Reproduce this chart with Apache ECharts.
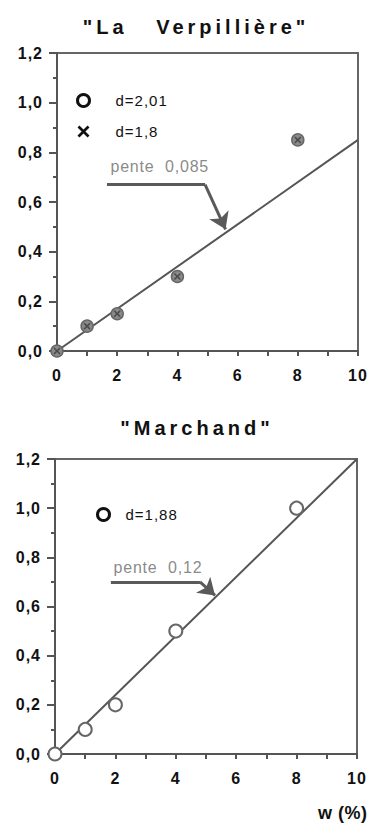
<!DOCTYPE html>
<html>
<head>
<meta charset="utf-8">
<script src="https://cdn.jsdelivr.net/npm/echarts@6.0.0/dist/echarts.min.js"></script>
<style>
  html, body { margin: 0; padding: 0; background: #fff; }
  #chart { width: 372px; height: 823px; }
  /* wide tracking, typewriter-style lettering */
  #chart text[style*="20px"] { letter-spacing: 4px; }
  #chart text[style*="18px"] { letter-spacing: 0.5px; }
  #chart text[style*="bold"][style*="16px"] { letter-spacing: 1px; }
  #chart text[style*="15px"] { letter-spacing: 1px; }
  #chart text[style*="16px"]:not([style*="bold"]) { letter-spacing: 0.8px; }
</style>
</head>
<body>
<div id="chart"></div>
<script>
// Tick labels (French decimal comma)
const xTickLabels = ['0', '2', '4', '6', '8', '10'];
const yTickLabels = ['0,0', '0,2', '0,4', '0,6', '0,8', '1,0', '1,2'];

// "La Verpillière": water content w (%) and measured values
const verpW = [0, 1, 2, 4, 8];
const verpD201 = [0, 0.10, 0.15, 0.30, 0.85];
const verpD18 = [0, 0.10, 0.15, 0.30, 0.85];
const verpSlope = 0.085;

// "Marchand"
const marchW = [0, 1, 2, 4, 8];
const marchD188 = [0, 0.10, 0.20, 0.50, 1.00];
const marchSlope = 0.12;

// Fitted lines span the full w range
const fitW = [0, 10];

// Slope callouts: shaft (horizontal) and head (diagonal) in data units
const verpShaft = [[1.66, 0.67], [4.92, 0.67]];
const verpHead = [[4.92, 0.67], [5.6, 0.49]];
const verpNote = [1.76, 0.742];
const marchShaft = [[1.85, 0.70], [4.8, 0.70]];
const marchHead = [[4.8, 0.70], [5.3, 0.645]];
const marchNote = [1.92, 0.757];

const FONT = '"Liberation Sans", Arial, Helvetica, sans-serif';
const INK = '#111';
const GREY = '#555';
const CROSS = 'path://M0,1.6 L1.6,0 L5,3.4 L8.4,0 L10,1.6 L6.6,5 L10,8.4 L8.4,10 L5,6.6 L1.6,10 L0,8.4 L3.4,5 Z';

const zip = (xs, ys) => xs.map((x, i) => [x, ys[i]]);
const fmtSlope = s => 'pente  ' + String(s).replace('.', ',');

function xAxis(gridIndex) {
  return {
    type: 'value', gridIndex, min: 0, max: 10, interval: 2,
    axisLine: { show: true, onZero: false, lineStyle: { color: GREY, width: 2 } },
    axisTick: { show: true, length: 5, lineStyle: { color: GREY, width: 2 } },
    minorTick: { show: true, splitNumber: 2, length: 5, lineStyle: { color: GREY, width: 2 } },
    splitLine: { show: false },
    minorSplitLine: { show: false },
    axisLabel: {
      margin: 16, fontSize: 16, fontWeight: 'bold', color: INK, fontFamily: FONT,
      formatter: v => xTickLabels[Math.round(v / 2)]
    }
  };
}

function yAxis(gridIndex) {
  return {
    type: 'value', gridIndex, min: 0, max: 1.2, interval: 0.2,
    axisLine: { show: true, onZero: false, lineStyle: { color: GREY, width: 2 } },
    axisTick: { show: true, length: 8, lineStyle: { color: GREY, width: 2 } },
    minorTick: { show: true, splitNumber: 2, length: 4, lineStyle: { color: GREY, width: 2 } },
    splitLine: { show: false },
    minorSplitLine: { show: false },
    axisLabel: {
      margin: 14, fontSize: 16, fontWeight: 'bold', color: INK, fontFamily: FONT,
      formatter: v => yTickLabels[Math.round(v / 0.2)]
    }
  };
}

function fitLine(idx, slope) {
  return {
    type: 'line', xAxisIndex: idx, yAxisIndex: idx, silent: true, z: 1,
    data: zip(fitW, fitW.map(w => w * slope)),
    symbol: 'none', lineStyle: { color: GREY, width: 2 }
  };
}

function arrowPart(idx, coords, withHead) {
  return {
    type: 'lines', coordinateSystem: 'cartesian2d', xAxisIndex: idx, yAxisIndex: idx,
    silent: true, z: 2,
    symbol: withHead ? ['none', 'arrow'] : ['none', 'none'],
    symbolSize: [0, 16],
    lineStyle: { color: '#5a5a5a', width: 3, opacity: 1, curveness: 0 },
    data: [{ coords }]
  };
}

function note(idx, pos, slope) {
  return {
    type: 'scatter', xAxisIndex: idx, yAxisIndex: idx, silent: true, z: 2,
    data: [pos], symbolSize: 1, itemStyle: { color: 'rgba(0,0,0,0)' },
    label: {
      show: true, position: 'right', distance: 0,
      formatter: () => fmtSlope(slope),
      fontSize: 16, color: '#6a6a6a', fontFamily: FONT
    }
  };
}

const chart = echarts.init(document.getElementById('chart'), null, { renderer: 'svg' });

chart.setOption({
  animation: false,
  backgroundColor: '#fff',
  grid: [
    { left: 57, top: 53, width: 301, height: 298, show: true, borderColor: '#666', borderWidth: 2, backgroundColor: 'transparent' },
    { left: 55, top: 459, width: 302, height: 295, show: true, borderColor: '#666', borderWidth: 2, backgroundColor: 'transparent' }
  ],
  xAxis: [xAxis(0), xAxis(1)],
  yAxis: [yAxis(0), yAxis(1)],
  legend: [
    {
      orient: 'vertical', left: 71, top: 88, itemWidth: 54, itemHeight: 12, itemGap: 16,
      selectedMode: false,
      textStyle: { fontSize: 15, color: INK, fontFamily: FONT },
      data: [
        { name: 'd=2,01', icon: 'circle', itemStyle: { color: '#fff', borderColor: INK, borderWidth: 3 } },
        { name: 'd=1,8', icon: CROSS, itemStyle: { color: INK, borderWidth: 0 } }
      ]
    },
    {
      orient: 'vertical', left: 91, top: 502, itemWidth: 34, itemHeight: 12,
      selectedMode: false,
      textStyle: { fontSize: 15, color: INK, fontFamily: FONT },
      data: [
        { name: 'd=1,88', icon: 'circle', itemStyle: { color: '#fff', borderColor: INK, borderWidth: 3 } }
      ]
    }
  ],
  graphic: [
    { type: 'text', x: 196, y: 27, style: { text: '"La   Verpillière"', textAlign: 'center', textVerticalAlign: 'middle', font: 'bold 20px ' + FONT, fill: INK } },
    { type: 'text', x: 197, y: 428, style: { text: '"Marchand"', textAlign: 'center', textVerticalAlign: 'middle', font: 'bold 20px ' + FONT, fill: INK } },
    { type: 'text', x: 318, y: 813, style: { text: 'w (%)', textAlign: 'left', textVerticalAlign: 'middle', font: 'bold 18px ' + FONT, fill: INK } }
  ],
  series: [
    fitLine(0, verpSlope),
    {
      name: 'd=2,01', type: 'scatter', xAxisIndex: 0, yAxisIndex: 0, z: 3,
      data: zip(verpW, verpD201), symbol: 'circle', symbolSize: 12,
      itemStyle: { color: '#8a8a8a', borderColor: '#666', borderWidth: 1.5, opacity: 1 }
    },
    {
      name: 'd=1,8', type: 'scatter', xAxisIndex: 0, yAxisIndex: 0, z: 4,
      data: zip(verpW, verpD18), symbol: CROSS, symbolSize: 7,
      itemStyle: { color: '#4a4a4a', opacity: 1 }
    },
    arrowPart(0, verpShaft, false),
    arrowPart(0, verpHead, true),
    note(0, verpNote, verpSlope),

    fitLine(1, marchSlope),
    {
      name: 'd=1,88', type: 'scatter', xAxisIndex: 1, yAxisIndex: 1, z: 3,
      data: zip(marchW, marchD188), symbol: 'circle', symbolSize: 13,
      itemStyle: { color: '#fff', borderColor: '#666', borderWidth: 2, opacity: 1 }
    },
    arrowPart(1, marchShaft, false),
    arrowPart(1, marchHead, true),
    note(1, marchNote, marchSlope)
  ]
});
</script>
</body>
</html>
